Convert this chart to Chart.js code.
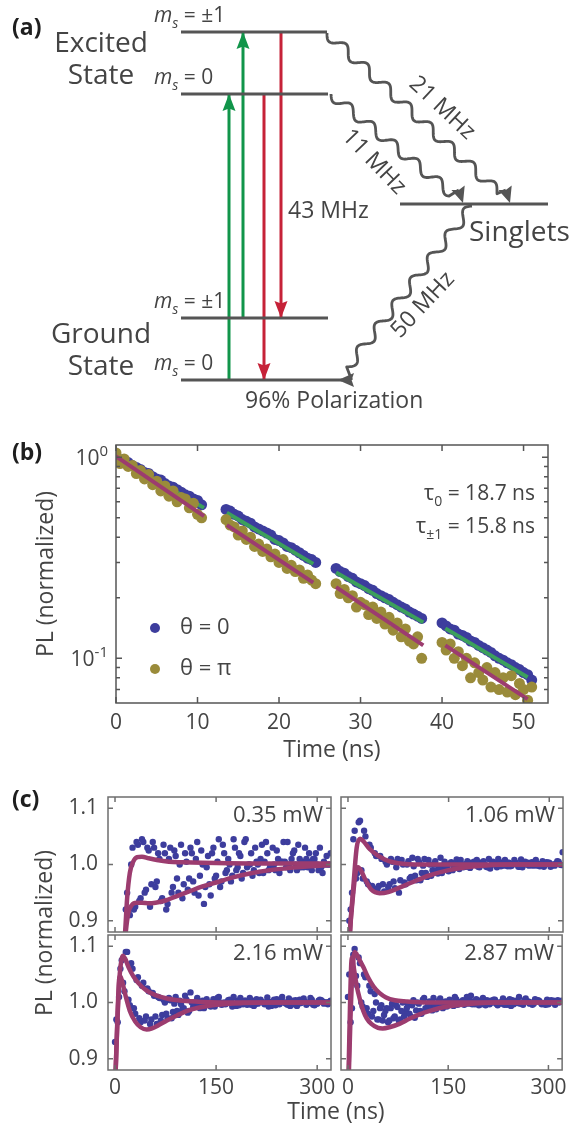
<!DOCTYPE html>
<html>
<head>
<meta charset="utf-8">
<title>NV centre levels and PL dynamics</title>
<script src="https://cdn.jsdelivr.net/npm/chart.js@4.4.1/dist/chart.umd.min.js"></script>
<style>
  body { margin: 0; background: #fff; }
  #page { position: relative; width: 572px; height: 1130px; overflow: hidden; }
  #page canvas { position: absolute; left: 0; }
</style>
</head>
<body>
<div id="page">
  <canvas id="levels" width="572" height="420" style="top:0"></canvas>
  <canvas id="decay" width="572" height="345" style="top:425px"></canvas>
  <canvas id="c1" width="572" height="360" style="top:770px"></canvas>
  <canvas id="c2" width="572" height="360" style="top:770px"></canvas>
  <canvas id="c3" width="572" height="360" style="top:770px"></canvas>
  <canvas id="c4" width="572" height="360" style="top:770px"></canvas>
</div>
<script>
// ---------- (a) level diagram, diagram units ----------
const levelNames = ['excited ±1', 'excited 0', 'ground ±1', 'ground 0', 'singlets'];
const levelFrom = [181, 181, 181, 181, 400];
const levelTo = [327, 328, 328, 342, 548];
const levelHeight = [32, 94, 318, 380, 204];
// optical transitions: column, start level index, end level index
const opticalX = [229, 243, 264, 281];
const opticalFrom = [3, 2, 1, 0];
const opticalTo = [1, 0, 3, 2];
const opticalKind = ['pump', 'pump', 'emit', 'emit'];
// intersystem crossing
const iscRate = ['21 MHz', '11 MHz', '50 MHz'];
const iscFromX = [327, 331, 472];
const iscFromY = [33, 94, 206];
const iscToX = [510, 463, 338];
const iscToY = [203, 203, 380];

// ---------- (b) lifetime data ----------
const timeB = [
  0, 0.5, 1, 1.5, 2, 2.5, 3, 3.5, 4, 4.5, 5, 5.5, 6, 6.5, 7, 7.5, 8, 8.5, 9, 9.5, 10, 10.5,
  13.5, 14, 14.5, 15, 15.5, 16, 16.5, 17, 17.5, 18, 18.5, 19, 19.5, 20, 20.5, 21, 21.5, 22, 22.5, 23, 23.5, 24, 24.5,
  27, 27.5, 28, 28.5, 29, 29.5, 30, 30.5, 31, 31.5, 32, 32.5, 33, 33.5, 34, 34.5, 35, 35.5, 36, 36.5, 37, 37.5,
  40, 40.5, 41, 41.5, 42, 42.5, 43, 43.5, 44, 44.5, 45, 45.5, 46, 46.5, 47, 47.5, 48, 48.5, 49, 49.5, 50, 50.5, 51];
const blueB = [
  1.01, 0.97, 0.96, 0.94, 0.91, 0.89, 0.87, 0.84, 0.83, 0.80, 0.78, 0.77, 0.74, 0.72, 0.71, 0.69, 0.67, 0.65, 0.64, 0.62, 0.61, 0.58,
  0.55, 0.54, 0.52, 0.51, 0.49, 0.48, 0.47, 0.45, 0.44, 0.43, 0.42, 0.41, 0.39, 0.385, 0.375, 0.36, 0.355, 0.345, 0.335, 0.325, 0.315, 0.31, 0.30,
  0.28, 0.27, 0.265, 0.255, 0.25, 0.24, 0.235, 0.23, 0.222, 0.218, 0.21, 0.205, 0.2, 0.196, 0.19, 0.185, 0.18, 0.176, 0.17, 0.166, 0.162, 0.158,
  0.15, 0.145, 0.14, 0.138, 0.132, 0.13, 0.127, 0.122, 0.12, 0.116, 0.113, 0.11, 0.107, 0.103, 0.1, 0.098, 0.095, 0.093, 0.09, 0.088, 0.085, 0.083, 0.078];
const oliveB = [
  1.05, 0.93, 0.98, 0.90, 0.91, 0.83, 0.86, 0.78, 0.82, 0.73, 0.76, 0.68, 0.72, 0.64, 0.68, 0.60, 0.63, 0.62, 0.56, 0.59, 0.52, 0.50,
  0.49, 0.46, 0.45, 0.41, 0.43, 0.39, 0.40, 0.36, 0.37, 0.34, 0.35, 0.32, 0.33, 0.30, 0.31, 0.28, 0.29, 0.27, 0.275, 0.25, 0.26, 0.245, 0.235,
  0.235, 0.21, 0.22, 0.2, 0.205, 0.18, 0.19, 0.185, 0.165, 0.18, 0.158, 0.17, 0.148, 0.16, 0.138, 0.15, 0.128, 0.14, 0.122, 0.118, 0.128, 0.1,
  0.12, 0.11, 0.118, 0.1, 0.108, 0.092, 0.1, 0.08, 0.095, 0.085, 0.078, 0.09, 0.072, 0.085, 0.07, 0.08, 0.068, 0.082, 0.066, 0.075, 0.07, 0.062, 0.072];
// fits: segment ends, null breaks the line
const fitTimeB = [0, 10.8, null, 13.6, 24.2, null, 27, 37.7, null, 40.4, 50.5];
const greenFitB = [1.0, 0.56, null, 0.53, 0.295, null, 0.267, 0.151, null, 0.141, 0.0805];
const magentaFitB = [1.01, 0.51, null, 0.46, 0.238, null, 0.226, 0.116, null, 0.116, 0.0627];
const xTicksB = [0, 10, 20, 30, 40, 50];
const yMajorB = [0.1, 1];
const yMinorB = [0.07, 0.08, 0.09, 0.2, 0.3, 0.4, 0.5, 0.6, 0.7, 0.8, 0.9];
const tauLabels = ['18.7', '15.8'];

// ---------- (c) power series ----------
const powerC = [0.35, 1.06, 2.16, 2.87];
const timeCa = [0, 8, 16, 24, 32, 40, 48, 56, 64, 72, 80, 88, 96, 104, 112, 120, 128, 136, 144, 152, 160,
  168, 176, 184, 192, 200, 208, 216, 224, 232, 240, 248, 256, 264, 272, 280, 288, 296, 304, 312, 320];
const timeCb = [4, 12, 20, 28, 36, 44, 52, 60, 68, 76, 84, 92, 100, 108, 116, 124, 132, 140, 148, 156,
  164, 172, 180, 188, 196, 204, 212, 220, 228, 236, 244, 252, 260, 268, 276, 284, 292, 300, 308, 316];
const timeCc = [2, 10, 18, 26, 34, 42, 50, 58, 66, 74, 82, 90, 98, 106, 114, 122, 130, 138, 146, 154,
  162, 170, 178, 186, 194, 202, 210, 218, 226, 234, 242, 250, 258, 266, 274, 282, 290, 298, 306, 314];
const timeCd = [6, 14, 22, 30, 38, 46, 54, 62, 70, 78, 86, 94, 102, 110, 118, 126, 134, 142, 150, 158,
  166, 174, 182, 190, 198, 206, 214, 222, 230, 238, 246, 254, 262, 270, 278, 286, 294, 302, 310, 318];

// 0.35 mW
const upC1 = [0.60, 0.70, 0.92, 1.0, 1.04, 1.045, 1.03, 1.04, 1.02, 1.035, 1.01, 1.025, 1.0, 1.02, 1.03, 1.01, 1.025, 0.995, 1.02, 1.005,
  1.035, 1.01, 1.045, 1.02, 1.04, 1.0, 1.03, 1.01, 1.04, 0.995, 1.025, 1.005, 1.04, 1.02, 1.035, 0.995, 1.02, 1.01, 1.03, 1.0, 1.02];
const upC1b = [0.6, 0.7, 0.95, 1.03, 1.035, 1.04, 1.025, 1.03, 1.01, 1.02, 1.03, 1.015, 1.035, 1.005, 1.02, 1.04, 1.0, 1.015, 1.03, 1.045,
  1.02, 1.0, 1.03, 1.015, 1.045, 1.02, 1.005, 1.035, 1.02, 1.03, 1.01, 1.04, 1.0, 1.025, 1.01, 1.03, 1.005, 1.02, 0.995, 1.015];
const lowC1 = [0.60, 0.80, 0.915, 0.92, 0.935, 0.95, 0.925, 0.96, 0.935, 0.92, 0.95, 0.975, 0.94, 0.955, 0.97, 0.945, 0.93, 0.965, 0.975, 0.96,
  0.985, 0.97, 0.99, 0.975, 0.995, 0.98, 1.0, 0.985, 0.99, 1.0, 0.985, 1.005, 0.99, 1.0, 0.995, 1.01, 0.99, 1.0, 0.985, 1.0];
const lowC1b = [0.6, 0.86, 0.91, 0.925, 0.94, 0.955, 0.965, 0.97, 0.94, 0.93, 0.96, 0.95, 0.965, 0.975, 0.95, 0.98, 0.96, 0.945, 0.98, 0.97,
  0.99, 0.98, 0.995, 0.985, 1.0, 0.99, 0.985, 1.005, 0.995, 0.99, 1.005, 0.995, 1.01, 0.99, 1.005, 0.995, 1.01, 0.99, 1.005, 1.0];
const fitTimeC1a = [13, 15, 18, 22, 27, 33, 40, 50, 62, 80, 100, 130, 200, 320];
const fitC1a = [0.85, 0.88, 0.94, 0.985, 1.005, 1.013, 1.014, 1.011, 1.008, 1.005, 1.004, 1.003, 1.002, 1.002];
const fitTimeC1b = [14, 16, 20, 25, 32, 40, 50, 60, 75, 90, 110, 130, 150, 175, 200, 230, 260, 290, 320];
const fitC1b = [0.85, 0.88, 0.915, 0.928, 0.932, 0.932, 0.931, 0.932, 0.936, 0.943, 0.952, 0.961, 0.968, 0.977, 0.984, 0.99, 0.994, 0.997, 0.999];

// 1.06 mW
const upC2 = [0.60, 1.045, 1.075, 1.06, 1.035, 1.02, 1.015, 1.005, 1.01, 0.995, 1.008, 1.0, 1.012, 1.01, 0.998, 1.008, 1.0, 0.995, 1.005, 1.002,
  1.0, 1.008, 0.996, 1.003, 1.008, 1.0, 0.995, 1.005, 1.01, 0.998, 1.003, 1.008, 0.996, 1.005, 1.0, 1.008, 0.998, 1.004, 1.0, 1.006, 1.022];
const upC2b = [0.9, 1.06, 1.078, 1.05, 1.03, 1.015, 1.01, 1.0, 1.005, 1.01, 1.0, 1.006, 0.997, 1.004, 1.01, 1.0, 1.006, 1.012, 0.998, 1.004,
  1.009, 1.0, 1.006, 1.002, 0.996, 1.006, 1.01, 1.0, 1.004, 1.008, 0.997, 1.003, 1.009, 1.0, 1.004, 0.998, 1.006, 1.003, 0.999, 1.005];
const lowC2 = [0.92, 0.975, 0.99, 0.97, 0.962, 0.955, 0.965, 0.96, 0.97, 0.95, 0.968, 0.975, 0.98, 0.972, 0.985, 0.98, 0.99, 0.985, 0.995, 0.99,
  1.0, 0.995, 0.998, 1.005, 0.995, 1.0, 0.993, 1.002, 0.997, 1.004, 0.998, 1.0, 0.995, 1.003, 0.998, 1.001, 0.996, 1.003, 0.998, 1.0];
const lowC2b = [0.95, 0.985, 0.975, 0.965, 0.958, 0.962, 0.952, 0.965, 0.958, 0.972, 0.965, 0.978, 0.972, 0.985, 0.978, 0.99, 0.984, 0.993, 0.988, 0.997,
  0.992, 1.0, 0.994, 0.999, 1.003, 0.996, 1.0, 0.995, 1.003, 0.997, 1.001, 0.996, 1.002, 0.998, 1.004, 0.997, 1.0, 0.996, 1.002, 0.999];
const fitTimeC2a = [0, 3, 8, 13, 18, 24, 32, 43, 55, 67, 85, 120, 320];
const fitC2a = [0.80, 0.88, 0.96, 1.03, 1.046, 1.04, 1.028, 1.017, 1.009, 1.004, 1.001, 1.0, 1.0];
const fitTimeC2b = [0, 3, 8, 12, 15, 20, 25, 35, 47, 60, 75, 95, 120, 150, 190, 240, 320];
const fitC2b = [0.80, 0.88, 0.95, 0.99, 0.995, 0.988, 0.975, 0.955, 0.949, 0.951, 0.958, 0.968, 0.98, 0.99, 0.997, 1.0, 1.0];

// 2.16 mW
const upC3 = [0.93, 1.06, 1.09, 1.07, 1.04, 1.03, 1.025, 1.017, 1.01, 1.005, 1.008, 0.998, 1.003, 1.012, 1.018, 1.002, 0.998, 1.006, 1.0, 1.008,
  0.997, 1.004, 1.01, 0.995, 1.003, 1.008, 0.997, 1.005, 1.0, 0.994, 1.006, 1.01, 0.996, 1.003, 0.998, 1.007, 1.0, 0.995, 1.005, 1.0, 1.003];
const upC3b = [0.97, 1.075, 1.09, 1.06, 1.045, 1.035, 1.02, 1.012, 1.008, 1.0, 1.004, 1.01, 0.997, 1.005, 1.0, 1.008, 1.003, 0.996, 1.006, 1.01,
  1.0, 1.005, 0.998, 1.008, 1.003, 0.996, 1.006, 1.001, 1.009, 0.998, 1.004, 1.0, 1.007, 0.997, 1.005, 1.001, 1.008, 0.998, 1.004, 1.0];
const lowC3 = [0.965, 1.035, 1.005, 0.99, 0.972, 0.968, 0.962, 0.975, 0.968, 0.98, 0.972, 0.985, 0.988, 0.982, 0.992, 0.995, 0.99, 0.998, 0.993, 1.0,
  0.997, 1.004, 0.994, 1.0, 0.996, 1.003, 0.998, 1.0, 0.993, 1.005, 0.997, 1.0, 0.994, 1.004, 0.999, 0.996, 1.005, 0.998, 1.002, 0.997];
const lowC3b = [1.01, 1.02, 0.995, 0.98, 0.965, 0.975, 0.97, 0.962, 0.978, 0.972, 0.983, 0.978, 0.99, 0.985, 0.995, 0.99, 0.997, 0.993, 1.002, 0.996,
  1.0, 0.993, 1.003, 0.997, 1.0, 0.994, 1.004, 0.997, 1.001, 0.995, 1.003, 0.998, 1.001, 0.994, 1.004, 0.999, 0.996, 1.003, 0.998, 1.001];
const fitTimeC3a = [-2, 1, 4, 7, 10, 12, 15, 20, 27, 35, 47, 60, 77, 100, 130, 180, 320];
const fitC3a = [0.80, 0.88, 0.98, 1.05, 1.078, 1.083, 1.078, 1.063, 1.047, 1.034, 1.021, 1.013, 1.007, 1.003, 1.001, 1.0, 1.0];
const fitTimeC3b = [-2, 1, 3.5, 6, 7.5, 10, 15, 22, 30, 38, 47, 55, 65, 77, 92, 107, 125, 150, 190, 240, 320];
const fitC3b = [0.80, 0.88, 0.97, 1.04, 1.047, 1.04, 1.015, 0.985, 0.966, 0.956, 0.952, 0.954, 0.96, 0.968, 0.977, 0.985, 0.991, 0.996, 0.999, 1.0, 1.0];

// 2.87 mW
const upC4 = [1.01, 1.085, 1.08, 1.05, 1.03, 1.015, 0.99, 0.985, 0.99, 0.995, 0.985, 0.99, 0.995, 1.0, 1.005, 0.998, 1.008, 1.003, 0.996, 1.005,
  1.01, 0.998, 1.003, 1.012, 1.006, 0.997, 1.004, 1.0, 0.995, 1.007, 1.003, 0.997, 1.01, 1.004, 0.998, 1.006, 1.0, 0.996, 1.004, 1.002, 1.003];
const upC4b = [1.05, 1.095, 1.07, 1.045, 1.02, 1.0, 0.995, 0.99, 0.998, 0.992, 1.0, 0.996, 1.004, 0.998, 1.008, 1.002, 0.996, 1.007, 1.002, 0.998,
  1.006, 1.0, 1.01, 0.997, 1.004, 1.008, 0.998, 1.005, 1.0, 0.996, 1.006, 1.002, 0.998, 1.007, 1.0, 1.004, 0.997, 1.005, 1.0, 1.004];
const lowC4 = [0.965, 1.047, 1.0, 0.99, 0.975, 0.97, 0.968, 0.965, 0.972, 0.968, 0.975, 0.98, 0.973, 0.985, 0.99, 0.995, 0.988, 0.998, 0.993, 1.0,
  0.996, 1.004, 0.998, 1.002, 0.995, 1.001, 0.997, 1.005, 0.998, 1.0, 0.994, 1.003, 0.998, 1.001, 0.996, 1.004, 0.999, 0.997, 1.003, 1.0];
const lowC4b = [0.99, 1.03, 0.993, 0.98, 0.985, 0.97, 0.978, 0.968, 0.975, 0.97, 0.982, 0.975, 0.986, 0.98, 0.99, 0.986, 0.995, 0.99, 0.998, 0.994,
  1.001, 0.996, 1.003, 0.997, 1.0, 0.995, 1.003, 0.998, 1.001, 0.996, 1.004, 0.999, 0.996, 1.002, 0.998, 1.003, 0.997, 1.001, 0.996, 1.002];
const fitTimeC4a = [-1, 1.5, 4, 7, 10, 13, 18, 23, 30, 38, 47, 57, 70, 87, 120, 320];
const fitC4a = [0.80, 0.88, 0.98, 1.06, 1.09, 1.086, 1.074, 1.063, 1.045, 1.029, 1.017, 1.009, 1.004, 1.002, 1.0, 1.0];
const fitTimeC4b = [-1, 1, 3, 5, 6.5, 9, 13, 18, 23, 28, 35, 45, 52, 62, 77, 92, 107, 125, 145, 177, 220, 320];
const fitC4b = [0.80, 0.88, 0.99, 1.07, 1.08, 1.06, 1.03, 1.005, 0.985, 0.972, 0.962, 0.955, 0.954, 0.956, 0.962, 0.971, 0.979, 0.986, 0.992, 0.997, 1.0, 1.0];

const xTicksC = [0, 150, 300];
const yTicksC = [0.9, 1.0, 1.1];

// ---------- styles ----------
const FONT = '"Open Sans", "Noto Sans", sans-serif';
const TEXT = '#444444';
const LEVEL = '#555555';
const PUMP = '#11954a';
const EMIT = '#c62238';
const BLUE = '#3d3d9d';
const OLIVE = '#9a8b3a';
const GREEN = '#3ca05c';
const MAGENTA = '#9c3c6f';

Chart.defaults.font.family = FONT;
Chart.defaults.color = TEXT;

const pairs = (xs, ys) => xs.map((x, i) => ({ x: x, y: ys[i] }));

function fontOf(p) {
  return (p.i ? 'italic ' : '') + (p.b ? 'bold ' : '') + p.s + 'px ' + FONT;
}
// draw text made of several runs (italic, sub/superscript)
function runs(ctx, parts, x, y, align) {
  let total = 0;
  parts.forEach(p => { ctx.font = fontOf(p); p.w = ctx.measureText(p.t).width; total += p.w; });
  let cx = align === 'right' ? x - total : align === 'center' ? x - total / 2 : x;
  ctx.textAlign = 'left';
  parts.forEach(p => { ctx.font = fontOf(p); ctx.fillText(p.t, cx, y + (p.dy || 0)); cx += p.w; });
}
function rotated(ctx, text, x, y, deg, size) {
  ctx.save();
  ctx.translate(x, y);
  ctx.rotate(deg * Math.PI / 180);
  ctx.font = size + 'px ' + FONT;
  ctx.textAlign = 'center';
  ctx.textBaseline = 'middle';
  ctx.fillText(text, 0, 0);
  ctx.restore();
}
function head(ctx, x, y, ang, color, len, half) {
  ctx.save();
  ctx.translate(x, y);
  ctx.rotate(ang);
  ctx.fillStyle = color;
  ctx.beginPath();
  ctx.moveTo(0, 0);
  ctx.lineTo(-len, -half);
  ctx.lineTo(-len * 0.85, 0);
  ctx.lineTo(-len, half);
  ctx.closePath();
  ctx.fill();
  ctx.restore();
}
function wave(ctx, a, b, headDeg) {
  const dx = b.x - a.x, dy = b.y - a.y, L = Math.hypot(dx, dy);
  const ux = dx / L, uy = dy / L, nx = -uy, ny = ux;
  const amp = 5, lambda = 29, hl = 16;
  const ang = headDeg * Math.PI / 180;
  const bx = b.x - Math.cos(ang) * hl * 0.85, by = b.y - Math.sin(ang) * hl * 0.85;
  const stop = L - 15;
  ctx.save();
  ctx.strokeStyle = LEVEL;
  ctx.lineWidth = 2.8;
  ctx.lineJoin = 'round';
  ctx.beginPath();
  for (let s = 0; s <= stop; s += 1) {
    const w = amp * Math.sin(2 * Math.PI * s / lambda);
    const px = a.x + ux * s + nx * w, py = a.y + uy * s + ny * w;
    if (s === 0) ctx.moveTo(px, py); else ctx.lineTo(px, py);
  }
  ctx.lineTo(bx, by);
  ctx.stroke();
  ctx.restore();
  head(ctx, b.x, b.y, ang, LEVEL, hl, 7);
}

function framePlugin(cfg) {
  return {
    id: 'frame',
    afterDraw(chart) {
      const { ctx, chartArea: a, scales: { x, y } } = chart;
      ctx.save();
      ctx.strokeStyle = cfg.color;
      ctx.lineWidth = cfg.width;
      ctx.beginPath();
      cfg.xTicks.forEach(v => {
        const p = x.getPixelForValue(v);
        ctx.moveTo(p, a.bottom); ctx.lineTo(p, a.bottom - cfg.len);
        ctx.moveTo(p, a.top); ctx.lineTo(p, a.top + cfg.len);
      });
      const yt = (vals, len) => vals.forEach(v => {
        const p = y.getPixelForValue(v);
        ctx.moveTo(a.left, p); ctx.lineTo(a.left + len, p);
        ctx.moveTo(a.right, p); ctx.lineTo(a.right - len, p);
      });
      yt(cfg.yTicks, cfg.len);
      if (cfg.yMinor) yt(cfg.yMinor, cfg.minorLen);
      ctx.stroke();
      ctx.strokeRect(a.left, a.top, a.right - a.left, a.bottom - a.top);
      ctx.restore();
    }
  };
}

// ================= (a) =================
const levelSets = levelNames.map((n, i) => ({
  label: n,
  data: [{ x: levelFrom[i], y: levelHeight[i] }, { x: levelTo[i], y: levelHeight[i] }],
  showLine: true, borderColor: LEVEL, borderWidth: 3, pointRadius: 0
}));
const opticalSets = opticalX.map((x, i) => ({
  label: opticalKind[i],
  data: [{ x: x, y: levelHeight[opticalFrom[i]] }, { x: x, y: levelHeight[opticalTo[i]] }],
  showLine: true, borderColor: opticalKind[i] === 'pump' ? PUMP : EMIT, borderWidth: 3, pointRadius: 0,
  arrowHead: true
}));
const iscHeadDeg = [72, 72, 180];
const iscSets = iscRate.map((r, i) => ({
  label: r,
  data: [{ x: iscFromX[i], y: iscFromY[i] }, { x: iscToX[i], y: iscToY[i] }],
  showLine: false, pointRadius: 0, wavy: true, headDeg: iscHeadDeg[i]
}));

new Chart(document.getElementById('levels'), {
  type: 'scatter',
  data: { datasets: [...levelSets, ...opticalSets, ...iscSets] },
  options: {
    responsive: false, animation: false, events: [],
    layout: { padding: 0 },
    plugins: { legend: { display: false }, tooltip: { enabled: false } },
    scales: {
      x: { display: false, min: 0, max: 572 },
      y: { display: false, min: 0, max: 420, reverse: true }
    }
  },
  plugins: [{
    id: 'diagram',
    afterDatasetsDraw(chart) {
      const ctx = chart.ctx;
      chart.data.datasets.forEach((ds, i) => {
        const pts = chart.getDatasetMeta(i).data;
        const a = pts[0], b = pts[pts.length - 1];
        if (ds.arrowHead) head(ctx, b.x, b.y, Math.atan2(b.y - a.y, b.x - a.x), ds.borderColor, 17, 6.5);
        if (ds.wavy) wave(ctx, a, b, ds.headDeg);
      });
    },
    afterDraw(chart) {
      const { ctx, scales: { x, y } } = chart;
      const X = v => x.getPixelForValue(v), Y = v => y.getPixelForValue(v);
      ctx.save();
      ctx.textBaseline = 'alphabetic';
      ctx.fillStyle = '#1e1e1e';
      runs(ctx, [{ t: '(a)', s: 23, b: true }], 12, 35, 'left');
      ctx.fillStyle = TEXT;
      const ms = ['±1', '0', '±1', '0'];
      ms.forEach((m, i) => {
        runs(ctx, [{ t: 'm', s: 21, i: true }, { t: 's', s: 14, i: true, dy: 6 }, { t: ' = ' + m, s: 21 }],
          X(levelFrom[i]) - 27, Y(levelHeight[i]) - 10, 'left');
      });
      runs(ctx, [{ t: 'Excited', s: 28 }], 101, 52, 'center');
      runs(ctx, [{ t: 'State', s: 28 }], 101, 84, 'center');
      runs(ctx, [{ t: 'Ground', s: 28 }], 101, 343, 'center');
      runs(ctx, [{ t: 'State', s: 28 }], 101, 375, 'center');
      runs(ctx, [{ t: '43 MHz', s: 23 }], 288, 218, 'left');
      runs(ctx, [{ t: 'Singlets', s: 28 }], 469, 241, 'left');
      runs(ctx, [{ t: '96% Polarization', s: 23 }], 245, 408, 'left');
      rotated(ctx, iscRate[0], 442, 108, 43, 23);
      rotated(ctx, iscRate[1], 374, 162, 46, 23);
      rotated(ctx, iscRate[2], 423, 305, -47, 23);
      ctx.restore();
    }
  }]
});

// ================= (b) =================
new Chart(document.getElementById('decay'), {
  type: 'scatter',
  data: {
    datasets: [
      { label: 'θ = 0', data: pairs(timeB, blueB), backgroundColor: BLUE, pointRadius: 5.5, borderWidth: 0, order: 4 },
      { label: 'θ = π', data: pairs(timeB, oliveB), backgroundColor: OLIVE, pointRadius: 5.5, borderWidth: 0, order: 2 },
      { label: 'fit 0', data: pairs(fitTimeB, greenFitB), showLine: true, borderColor: GREEN, borderWidth: 4, pointRadius: 0, order: 3 },
      { label: 'fit π', data: pairs(fitTimeB, magentaFitB), showLine: true, borderColor: MAGENTA, borderWidth: 4, pointRadius: 0, order: 1 }
    ]
  },
  options: {
    responsive: false, animation: false, events: [],
    layout: { padding: { left: 0, top: 20, right: 24, bottom: 0 } },
    plugins: { legend: { display: false }, tooltip: { enabled: false } },
    scales: {
      x: {
        type: 'linear', min: 0, max: 53,
        afterFit: s => { s.height = 67; },
        afterBuildTicks: s => { s.ticks = xTicksB.map(v => ({ value: v })); },
        grid: { display: false, drawTicks: false }, border: { display: false },
        ticks: { padding: 7, color: TEXT, font: { size: 21 } },
        title: { display: true, text: 'Time (ns)', color: TEXT, font: { size: 23 }, padding: { top: 0, bottom: 6 } }
      },
      y: {
        type: 'logarithmic', min: 0.06, max: 1.15,
        afterFit: s => { s.width = 116; },
        afterBuildTicks: s => { s.ticks = yMajorB.map(v => ({ value: v })); },
        grid: { display: false, drawTicks: false }, border: { display: false },
        ticks: { callback: () => '' },
        title: { display: true, text: 'PL (normalized)', color: TEXT, font: { size: 23 }, padding: { top: 33, bottom: 0 } }
      }
    }
  },
  plugins: [
    framePlugin({ color: '#555', width: 1.5, len: 6, minorLen: 4, xTicks: xTicksB, yTicks: yMajorB, yMinor: yMinorB }),
    {
      id: 'decayText',
      afterDraw(chart) {
        const { ctx, scales: { y } } = chart;
        ctx.save();
        ctx.textBaseline = 'alphabetic';
        ctx.fillStyle = '#1e1e1e';
        runs(ctx, [{ t: '(b)', s: 23, b: true }], 12, 35, 'left');
        ctx.fillStyle = TEXT;
        // log tick labels 10^n
        yMajorB.forEach(v => {
          const p = y.getPixelForValue(v);
          runs(ctx, [{ t: '10', s: 21 }, { t: String(Math.round(Math.log10(v))), s: 15, dy: -9 }], 108, p + 8, 'right');
        });
        // lifetimes
        runs(ctx, [{ t: 'τ', s: 22 }, { t: '0', s: 14, dy: 6 }, { t: ' = ' + tauLabels[0] + ' ns', s: 21 }], 535, 75, 'right');
        runs(ctx, [{ t: 'τ', s: 22 }, { t: '±1', s: 14, dy: 6 }, { t: ' = ' + tauLabels[1] + ' ns', s: 21 }], 535, 108, 'right');
        // legend
        const ds = chart.data.datasets;
        [0, 1].forEach(k => {
          const cy = 203 + k * 41;
          ctx.fillStyle = ds[k].backgroundColor;
          ctx.beginPath();
          ctx.arc(155, cy, 5, 0, Math.PI * 2);
          ctx.fill();
          ctx.fillStyle = TEXT;
          ctx.textBaseline = 'middle';
          runs(ctx, [{ t: ds[k].label, s: 22 }], 180, cy, 'left');
          ctx.textBaseline = 'alphabetic';
        });
        ctx.restore();
      }
    }
  ]
});

// ================= (c) =================
function panelC(id, spec) {
  const box = spec.box;
  const plugins = [
    framePlugin({ color: '#6e6e6e', width: 1.5, len: 5, xTicks: xTicksC, yTicks: yTicksC }),
    {
      id: 'power',
      afterDraw(chart) {
        const { ctx, chartArea: a } = chart;
        ctx.save();
        ctx.fillStyle = TEXT;
        ctx.textBaseline = 'alphabetic';
        runs(ctx, [{ t: spec.power.toFixed(2) + ' mW', s: 22 }], a.right - 8, a.top + 25, 'right');
        ctx.restore();
      }
    }
  ];
  if (spec.titles) plugins.push({
    id: 'cTitles',
    afterDraw(chart) {
      const ctx = chart.ctx;
      ctx.save();
      ctx.fillStyle = '#1e1e1e';
      ctx.textBaseline = 'alphabetic';
      runs(ctx, [{ t: '(c)', s: 23, b: true }], 12, 37, 'left');
      ctx.fillStyle = TEXT;
      rotated(ctx, 'PL (normalized)', 45, 163, -90, 23);
      rotated(ctx, 'Time (ns)', 336, 342, 0, 23);
      ctx.restore();
    }
  });
  const dots = (xs, ys) => ({ data: pairs(xs, ys), backgroundColor: BLUE, pointRadius: 3.2, borderWidth: 0, clip: 0, order: 3 });
  const curve = (xs, ys) => ({ data: pairs(xs, ys), showLine: true, borderColor: MAGENTA, borderWidth: 4.5, pointRadius: 0,
    cubicInterpolationMode: 'monotone', clip: 0, order: 1 });
  return new Chart(document.getElementById(id), {
    type: 'scatter',
    data: {
      datasets: [
        dots(timeCa, spec.up), dots(timeCc, spec.up2), dots(timeCb, spec.low), dots(timeCd, spec.low2),
        curve(spec.fat, spec.fa), curve(spec.fbt, spec.fb)
      ]
    },
    options: {
      responsive: false, animation: false, events: [],
      layout: { padding: { left: 0, top: box[1], right: 572 - box[2], bottom: 360 - box[3] - 30 } },
      plugins: { legend: { display: false }, tooltip: { enabled: false } },
      scales: {
        x: {
          type: 'linear', min: -10.4, max: 320.5,
          afterFit: s => { s.height = 30; },
          afterBuildTicks: s => { s.ticks = xTicksC.map(v => ({ value: v })); },
          grid: { display: false, drawTicks: false }, border: { display: false },
          ticks: { display: spec.xLabels, padding: 5, color: TEXT, font: { size: 21 } }
        },
        y: {
          type: 'linear', min: 0.88, max: 1.12,
          afterFit: s => { s.width = box[0]; },
          afterBuildTicks: s => { s.ticks = yTicksC.map(v => ({ value: v })); },
          grid: { display: false, drawTicks: false }, border: { display: false },
          ticks: { display: spec.yLabels, padding: 10, color: TEXT, font: { size: 21 }, callback: v => v.toFixed(1) }
        }
      }
    },
    plugins: plugins
  });
}

panelC('c1', { box: [108, 27, 331, 162], power: powerC[0], up: upC1, up2: upC1b, low: lowC1, low2: lowC1b,
  fat: fitTimeC1a, fa: fitC1a, fbt: fitTimeC1b, fb: fitC1b, xLabels: false, yLabels: true, titles: true });
panelC('c2', { box: [341, 27, 563, 162], power: powerC[1], up: upC2, up2: upC2b, low: lowC2, low2: lowC2b,
  fat: fitTimeC2a, fa: fitC2a, fbt: fitTimeC2b, fb: fitC2b, xLabels: false, yLabels: false });
panelC('c3', { box: [108, 165, 331, 300], power: powerC[2], up: upC3, up2: upC3b, low: lowC3, low2: lowC3b,
  fat: fitTimeC3a, fa: fitC3a, fbt: fitTimeC3b, fb: fitC3b, xLabels: true, yLabels: true });
panelC('c4', { box: [341, 165, 563, 300], power: powerC[3], up: upC4, up2: upC4b, low: lowC4, low2: lowC4b,
  fat: fitTimeC4a, fa: fitC4a, fbt: fitTimeC4b, fb: fitC4b, xLabels: true, yLabels: false });
</script>
</body>
</html>
